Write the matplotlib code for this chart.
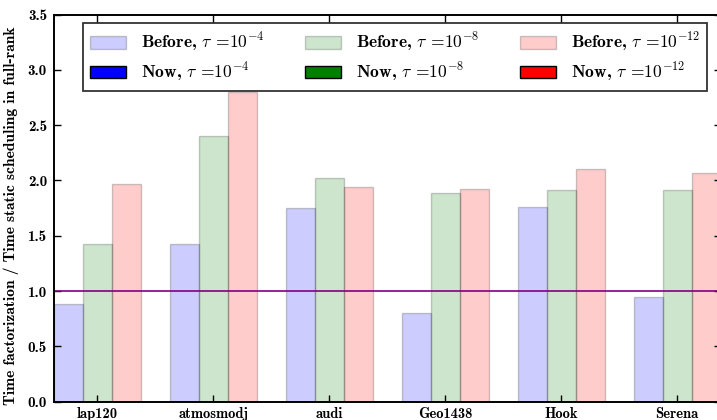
import matplotlib
matplotlib.use("Agg")
import matplotlib.pyplot as plt
from matplotlib.patches import Patch
import numpy as np

categories = ["lap120", "atmosmodj", "audi", "Geo1438", "Hook", "Serena"]
before_1e4 = [0.88, 1.43, 1.75, 0.80, 1.76, 0.945]
before_1e8 = [1.43, 2.40, 2.02, 1.89, 1.91, 1.91]
before_1e12 = [1.97, 2.80, 1.94, 1.92, 2.10, 2.07]
yticks = [0.0, 0.5, 1.0, 1.5, 2.0, 2.5, 3.0, 3.5]

plt.rcParams['font.family'] = ['cmb10', 'DejaVu Serif']
plt.rcParams['mathtext.fontset'] = 'cm'
plt.rcParams['axes.unicode_minus'] = False
plt.rcParams['axes.formatter.use_mathtext'] = False

fig = plt.figure(figsize=(7.17, 4.2), dpi=100)
ax = fig.add_axes([54/717, 1-401.7/420, 666.5/717, (401.7-14.5)/420])

x = np.arange(len(categories))
w = 0.25
ax.bar(x - w, before_1e4, w, color='blue', alpha=0.2, edgecolor='black', linewidth=1)
ax.bar(x, before_1e8, w, color='green', alpha=0.2, edgecolor='black', linewidth=1)
ax.bar(x + w, before_1e12, w, color='red', alpha=0.2, edgecolor='black', linewidth=1)
ax.axhline(1.0, color='purple', linewidth=1.2)

ax.set_xlim(-0.375, 5.375)
ax.set_ylim(0, 3.5)
ax.set_xticks(x)
ax.set_xticklabels(categories, fontsize=10.5)
ax.set_yticks(yticks)
ax.set_yticklabels([f"{t:.1f}" for t in yticks], fontsize=10.8)
ax.tick_params(direction='in', top=True, right=True, length=5, width=1)
ax.tick_params(axis='y', pad=5)
ax.tick_params(axis='x', pad=4)
for s in ax.spines.values():
    s.set_linewidth(1.4)
ax.set_ylabel("Time factorization / Time static scheduling in full-rank", fontsize=11.2,
              labelpad=6, y=0.48)

handles = [
    Patch(facecolor='blue', edgecolor='black', alpha=0.2),
    Patch(facecolor='blue', edgecolor='black'),
    Patch(facecolor='green', edgecolor='black', alpha=0.2),
    Patch(facecolor='green', edgecolor='black'),
    Patch(facecolor='red', edgecolor='black', alpha=0.2),
    Patch(facecolor='red', edgecolor='black'),
]
labels = [
    r"Before, $\tau$ =$10^{-4}$", r"Now, $\tau$ =$10^{-4}$",
    r"Before, $\tau$ =$10^{-8}$", r"Now, $\tau$ =$10^{-8}$",
    r"Before, $\tau$ =$10^{-12}$", r"Now, $\tau$ =$10^{-12}$",
]
leg = ax.legend(handles, labels, ncol=3, loc='upper left', bbox_to_anchor=(0.043, 0.977),
                borderaxespad=0, fontsize=12.6, fancybox=False, frameon=True,
                handlelength=2.06, handleheight=0.74, handletextpad=0.86,
                columnspacing=2.3, labelspacing=0.36, borderpad=0.42)
leg.get_frame().set_edgecolor('black')
leg.get_frame().set_linewidth(1.3)

fig.savefig("out.png", dpi=100)
